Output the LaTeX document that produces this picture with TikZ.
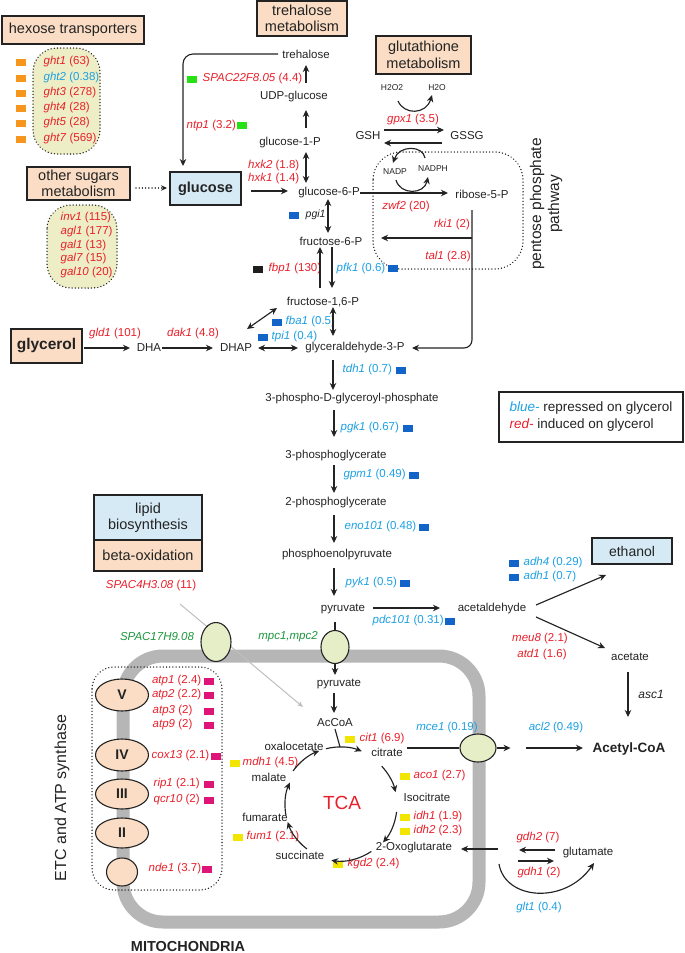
\documentclass[tikz,border=0pt]{standalone}
\usepackage{fontspec}
\setmainfont{Liberation Sans}
\usetikzlibrary{arrows.meta,calc,shapes.geometric}
\definecolor{cred}{RGB}{232,32,42}
\definecolor{cblue}{RGB}{28,160,226}
\definecolor{sqblue}{RGB}{18,100,200}
\definecolor{cgreen}{RGB}{28,150,60}
\definecolor{sqgreen}{RGB}{40,225,20}
\definecolor{sqorange}{RGB}{246,150,30}
\definecolor{sqyellow}{RGB}{242,230,0}
\definecolor{sqmag}{RGB}{222,20,120}
\definecolor{sqblack}{RGB}{30,30,30}
\definecolor{peach}{RGB}{250,221,196}
\definecolor{lblue}{RGB}{214,234,246}
\definecolor{blob}{RGB}{238,238,198}
\definecolor{tfill}{RGB}{230,238,200}
\definecolor{memb}{RGB}{182,182,182}
\definecolor{tdark}{RGB}{35,35,35}
\definecolor{lgrey}{RGB}{190,190,190}
\newcommand\fsz[1]{\fontsize{#1}{#1}\selectfont}
\newcommand\genR[2]{\textcolor{cred}{\textit{#1} (#2)}}
\newcommand\genB[2]{\textcolor{cblue}{\textit{#1} (#2)}}
\newcommand\gsq[3]{\fill[#1] (#2-5,#3-3.5) rectangle (#2+5,#3+3.5);}
\begin{document}
\begin{tikzpicture}[x=1pt,y=-1pt,
  met/.style={font=\fsz{11.5}, text=tdark, inner sep=1pt},
  gene/.style={font=\fsz{11.5}, inner sep=0.5pt},
  sml/.style={font=\fsz{8.5}, text=tdark, inner sep=1pt},
  boxt/.style={draw=tdark, line width=1.3pt, font=\fontsize{14.5}{16.5}\selectfont, align=center, inner sep=0pt, text=tdark},
  arr/.style={draw=tdark, line width=1.15pt, -{Stealth[length=7pt,width=6.5pt]}},
  darr/.style={draw=tdark, line width=1.15pt, {Stealth[length=7pt,width=6.5pt]}-{Stealth[length=7pt,width=6.5pt]}},
  dotsty/.style={draw=tdark, line width=1.5pt, dash pattern=on 0.01pt off 3.2pt, line cap=round},
  trans/.style={ellipse, draw=tdark, line width=1.1pt, fill=tfill, inner sep=0pt},
  cplx/.style={ellipse, draw=tdark, line width=1.1pt, fill=peach, inner sep=0pt, font=\bfseries\fsz{14}, text=tdark},
]
\useasboundingbox (0,0) rectangle (685,953);

% ---------- regions ----------
\draw[memb, line width=13pt, rounded corners=40] (123,656) rectangle (479,922);
\draw[dotsty, fill=blob, rounded corners=24] (33,48) rectangle (100,154);
\draw[dotsty, fill=blob, rounded corners=24] (47,205) rectangle (117,288);
\draw[dotsty, rounded corners=28] (373,152) rectangle (523,269);
\draw[dotsty, rounded corners=22] (92,667) rectangle (222,890);

% ---------- boxes ----------
\node[boxt, fill=peach, minimum width=142, minimum height=28] (hexbox) at (73,30) {hexose transporters};
\node[boxt, fill=peach, minimum width=103, minimum height=33] (osbox) at (78.5,183.5) {other sugars\\metabolism};
\node[boxt, fill=lblue, minimum width=71, minimum height=33, font=\bfseries\fsz{14.5}] (glu) at (205.5,188.5) {glucose};
\node[boxt, fill=peach, minimum width=90, minimum height=35] (trebox) at (302,18.5) {trehalose\\metabolism};
\node[boxt, fill=peach, minimum width=95, minimum height=38] (gtbox) at (423.5,55) {glutathione\\metabolism};
\node[boxt, fill=peach, minimum width=71, minimum height=34, font=\bfseries\fsz{15.5}] (glyc) at (46.5,346) {glycerol};
\node[boxt, fill=lblue, minimum width=108, minimum height=45] (lip) at (148,517.5) {lipid\\biosynthesis};
\node[boxt, fill=peach, minimum width=108, minimum height=31] (beta) at (148,555.5) {beta-oxidation};
\node[boxt, fill=lblue, minimum width=80, minimum height=26, font=\fsz{14}] (eth) at (632,551) {ethanol};
\node[boxt, minimum width=184, minimum height=50, align=left, font=\fontsize{13.5}{17}\selectfont] (leg) at (591,417) {\textcolor{cblue}{\textit{blue-}} repressed on glycerol\\\textcolor{cred}{\textit{red-}} induced on glycerol};

% ---------- metabolites ----------
\node[met] (tre) at (306,54) {trehalose};
\node[met] (udp) at (294,97) {UDP-glucose};
\node[met] (g1p) at (290,143) {glucose-1-P};
\node[met] (g6p) at (329,193) {glucose-6-P};
\node[met] (f6p) at (331,241) {fructose-6-P};
\node[met] (f16p) at (323,302) {fructose-1,6-P};
\node[met] (gap) at (355,348) {glyceraldehyde-3-P};
\node[met] (dhap) at (236,348) {DHAP};
\node[met] (dha) at (149,348) {DHA};
\node[met] (r5p) at (482,194) {ribose-5-P};
\node[met] (gsh) at (368,136) {GSH};
\node[met] (gssg) at (467,136) {GSSG};
\node[sml] (h2o2) at (392,88) {H2O2};
\node[sml] (h2o) at (437,88) {H2O};
\node[sml] (nadp) at (395,172) {NADP};
\node[sml] (nadph) at (433,169) {NADPH};
\node[met] (p3dg) at (352,399) {3-phospho-D-glyceroyl-phosphate};
\node[met] (pg3) at (336,456) {3-phosphoglycerate};
\node[met] (pg2) at (336,503) {2-phosphoglycerate};
\node[met] (pep) at (337,555) {phosphoenolpyruvate};
\node[met] (pyr) at (343,609) {pyruvate};
\node[met] (acald) at (492,609) {acetaldehyde};
\node[met] (acet) at (630,657) {acetate};
\node[met, font=\bfseries\fsz{13.5}] (acoa) at (629,749) {Acetyl-CoA};
\node[met] (pyrin) at (339,684) {pyruvate};
\node[met] (accoa) at (335,723) {AcCoA};
\node[met] (oaa) at (294,746) {oxalocetate};
\node[met] (cit) at (387,752) {citrate};
\node[met] (icit) at (427,797) {Isocitrate};
\node[met] (og) at (414,848) {2-Oxoglutarate};
\node[met] (suc) at (300,855) {succinate};
\node[met] (fum) at (265,817) {fumarate};
\node[met] (mal) at (269,777) {malate};
\node[met] (glut) at (588,853) {glutamate};
\node[font=\fsz{19}, text=cred] (tca) at (342,803) {TCA};
\node[font=\bfseries\fsz{14.5}, text=tdark] (mito) at (188,946) {MITOCHONDRIA};
\node[font=\fontsize{15.5}{18}\selectfont, align=center, rotate=90, text=tdark] (ppp) at (546,204) {pentose phosphate\\pathway};
\node[font=\fsz{16}, rotate=90, text=tdark] (etc) at (62,798) {ETC and ATP synthase};

% ---------- genes ----------
\node[gene, anchor=west] (ght1) at (43,62) {\genR{ght1}{63}};
\node[gene, anchor=west] (ght2) at (43,78) {\genB{ght2}{0.38}};
\node[gene, anchor=west] (ght3) at (43,93) {\genR{ght3}{278}};
\node[gene, anchor=west] (ght4) at (43,108) {\genR{ght4}{28}};
\node[gene, anchor=west] (ght5) at (43,123) {\genR{ght5}{28}};
\node[gene, anchor=west] (ght7) at (43,139) {\genR{ght7}{569}};
\node[gene, anchor=west] (inv1) at (60,218) {\genR{inv1}{115}};
\node[gene, anchor=west] (agl1) at (60,232) {\genR{agl1}{177}};
\node[gene, anchor=west] (gal1) at (60,246) {\genR{gal1}{13}};
\node[gene, anchor=west] (gal7) at (60,259) {\genR{gal7}{15}};
\node[gene, anchor=west] (gal10) at (60,273) {\genR{gal10}{20}};
\node[gene, anchor=west] (spac22) at (202,79) {\genR{SPAC22F8.05}{4.4}};
\node[gene, anchor=west] (ntp1) at (186,126) {\genR{ntp1}{3.2}};
\node[gene, anchor=east] (hxk2) at (300,166) {\genR{hxk2}{1.8}};
\node[gene, anchor=east] (hxk1) at (300,179) {\genR{hxk1}{1.4}};
\node[gene] (gpx1) at (413,120) {\genR{gpx1}{3.5}};
\node[gene] (zwf2) at (406,207) {\genR{zwf2}{20}};
\node[gene] (rki1) at (452,225) {\genR{rki1}{2}};
\node[gene] (tal1) at (448,257) {\genR{tal1}{2.8}};
\node[gene, anchor=west, font=\itshape\fsz{10.5}, text=tdark] (pgi1) at (305,215) {pgi1};
\node[gene, anchor=west] (fbp1) at (268,269) {\genR{fbp1}{130}};
\node[gene, anchor=west] (pfk1) at (336,269) {\genB{pfk1}{0.6}};
\node[gene, anchor=west] (fba1) at (285,322) {\genB{fba1}{0.5}};
\node[gene, anchor=west] (tpi1) at (271,337) {\genB{tpi1}{0.4}};
\node[gene] (gld1) at (115,334) {\genR{gld1}{101}};
\node[gene] (dak1) at (193,334) {\genR{dak1}{4.8}};
\node[gene, anchor=west] (tdh1) at (342,370) {\genB{tdh1}{0.7}};
\node[gene, anchor=west] (pgk1) at (340,428) {\genB{pgk1}{0.67}};
\node[gene, anchor=west] (gpm1) at (343,475) {\genB{gpm1}{0.49}};
\node[gene, anchor=west] (eno101) at (344,527) {\genB{eno101}{0.48}};
\node[gene, anchor=west] (pyk1) at (345,583) {\genB{pyk1}{0.5}};
\node[gene, anchor=west] (pdc101) at (372,621) {\genB{pdc101}{0.31}};
\node[gene, anchor=west] (adh4) at (523,563) {\genB{adh4}{0.29}};
\node[gene, anchor=west] (adh1) at (523,577) {\genB{adh1}{0.7}};
\node[gene] (meu8) at (540,639) {\genR{meu8}{2.1}};
\node[gene] (atd1) at (542,655) {\genR{atd1}{1.6}};
\node[gene, font=\itshape\fsz{12}, text=tdark] (asc1) at (651,694) {asc1};
\node[gene] (acl2) at (556,728) {\genB{acl2}{0.49}};
\node[gene] (mce1) at (447,728) {\genB{mce1}{0.19}};
\node[gene] (gdh2) at (538,838) {\genR{gdh2}{7}};
\node[gene] (gdh1) at (539,873) {\genR{gdh1}{2}};
\node[gene] (glt1) at (539,908) {\genB{glt1}{0.4}};
\node[gene] (spac4) at (151,586) {\genR{SPAC4H3.08}{11}};
\node[gene, font=\itshape\fsz{11.5}, text=cgreen] (spac17) at (157,637) {SPAC17H9.08};
\node[gene, font=\itshape\fsz{11.5}, text=cgreen] (mpc) at (288,637) {mpc1,mpc2};
\node[gene, anchor=west] (cit1) at (359,739) {\genR{cit1}{6.9}};
\node[gene, anchor=west] (aco1) at (413,776) {\genR{aco1}{2.7}};
\node[gene, anchor=west] (idh1) at (413,817) {\genR{idh1}{1.9}};
\node[gene, anchor=west] (idh2) at (413,831) {\genR{idh2}{2.3}};
\node[gene, anchor=west] (mdh1) at (242,763) {\genR{mdh1}{4.5}};
\node[gene, anchor=west] (fum1) at (246,837) {\genR{fum1}{2.1}};
\node[gene, anchor=west] (kgd2) at (347,864) {\genR{kgd2}{2.4}};
\node[gene, anchor=east] (atp1) at (202,681) {\genR{atp1}{2.4}};
\node[gene, anchor=east] (atp2) at (202,695) {\genR{atp2}{2.2}};
\node[gene, anchor=west] (atp3) at (152,711) {\genR{atp3}{2}};
\node[gene, anchor=west] (atp9) at (152,725) {\genR{atp9}{2}};
\node[gene, anchor=west] (cox13) at (151,756) {\genR{cox13}{2.1}};
\node[gene, anchor=west] (rip1) at (153,784) {\genR{rip1}{2.1}};
\node[gene, anchor=west] (qcr10) at (153,800) {\genR{qcr10}{2}};
\node[gene, anchor=west] (nde1) at (148,869) {\genR{nde1}{3.7}};

% ---------- squares ----------
\gsq{sqorange}{20.5}{62}\gsq{sqorange}{20.5}{78}\gsq{sqorange}{20.5}{93}
\gsq{sqorange}{20.5}{108}\gsq{sqorange}{20.5}{123}\gsq{sqorange}{20.5}{139}
\gsq{sqgreen}{192}{79}\gsq{sqgreen}{242}{125.5}
\gsq{sqblue}{294}{215}\gsq{sqblack}{258}{269}\gsq{sqblue}{393}{268.5}
\gsq{sqblue}{277}{322.5}\gsq{sqblue}{263}{337}\gsq{sqblue}{401}{370}
\gsq{sqblue}{408}{428}\gsq{sqblue}{414}{475}\gsq{sqblue}{424}{527}
\gsq{sqblue}{405}{583}\gsq{sqblue}{450}{621}\gsq{sqblue}{514}{563}\gsq{sqblue}{514}{577}
\gsq{sqyellow}{350}{739}\gsq{sqyellow}{405}{776}\gsq{sqyellow}{405}{817}\gsq{sqyellow}{405}{831}
\gsq{sqyellow}{238}{837}\gsq{sqyellow}{235}{763}\gsq{sqyellow}{338}{864}
\gsq{sqmag}{209}{681}\gsq{sqmag}{209}{695}\gsq{sqmag}{209}{711}\gsq{sqmag}{209}{725}
\gsq{sqmag}{216}{756}\gsq{sqmag}{209}{784}\gsq{sqmag}{209}{800}\gsq{sqmag}{207}{869}

% ---------- connectors ----------
\draw[arr] ($(udp)+(12,-14)$) -- ($(tre)+(0,11)$);
\draw[arr] ($(g1p)+(16,-15)$) -- ($(udp)+(12,13)$);
\draw[arr, rounded corners=10] ($(tre)+(-28,0)$) -| ($(glu)+(-22.5,-22.5)$);
\draw[darr] ($(g1p)+(16,9)$) -- ($(g6p)+(-23,-10)$);
\draw[arr] ($(glu)+(45.5,2.5)$) -- ($(g6p)+(-41,-2)$);
\draw[dotsty, line width=1.4pt, -{Stealth[length=6pt,width=5.5pt]}] ($(osbox)+(57.5,4.5)$) -- ($(glu)+(-38.5,-0.5)$);
\draw[darr] ($(g6p)+(-1,6)$) -- ($(f6p)+(-3,-8)$);
\draw[arr] ($(f16p)+(-3,-14)$) -- ($(f6p)+(-11,6)$);
\draw[arr] ($(f6p)+(1,6)$) -- ($(f16p)+(9,-14)$);
\draw[darr] ($(f16p)+(10,5)$) -- ($(gap)+(-22,-12)$);
\draw[darr] ($(f16p)+(-46,6)$) -- ($(dhap)+(11,-19)$);
\draw[darr] ($(dhap)+(22,0)$) -- ($(gap)+(-57,0)$);
\draw[arr] ($(glyc)+(37.5,2)$) -- ($(dha)+(-19,0)$);
\draw[arr] ($(dha)+(13,0)$) -- ($(dhap)+(-23,0)$);
\draw[arr] ($(g6p)+(31,0)$) -- ($(r5p)+(-34,-1)$);
\draw[arr, rounded corners=8] ($(r5p)+(-10,16)$) |- ($(gap)+(57,0)$);
\draw[arr] ($(r5p)+(-10,44)$) -- ($(f6p)+(50,-3)$);
\draw[arr] ($(gap)+(-22,12)$) -- ($(p3dg)+(-19,-9)$);
\draw[arr] ($(p3dg)+(-18,11)$) -- ($(pg3)+(-2,-19)$);
\draw[arr] ($(pg3)+(-2,9)$) -- ($(pg2)+(-2,-10)$);
\draw[arr] ($(pg2)+(-2,12)$) -- ($(pep)+(-3,-12)$);
\draw[arr] ($(pep)+(-3,13)$) -- ($(pyr)+(-9,-13)$);
\draw[arr] ($(pyr)+(30,-1)$) -- ($(acald)+(-52,-1)$);
\draw[arr] ($(acald)+(44,-4)$) -- ($(eth)+(-26,24)$);
\draw[arr] ($(acald)+(44,8)$) -- ($(acet)+(-25,-9)$);
\draw[arr] ($(acet)+(-2,15)$) -- ($(acoa)+(-1,-32)$);
\draw[arr] ($(acoa)+(-103,-1)$) -- ($(acoa)+(-46,-1)$);
\draw[arr] ($(pyr)+(-8,13)$) -- ($(pyrin)+(-4,-9)$);
\draw[arr] ($(pyrin)+(-5,9)$) -- ($(accoa)+(-1,-10)$);
\draw[lgrey, line width=1pt, -{Stealth[length=6pt,width=5pt]}] ($(spac4)+(29,18)$) -- ($(accoa)+(-32,-16)$);

% glutathione
\draw[arr] ($(h2o2)+(6,13)$) .. controls (404,115) and (426,115) .. ($(h2o)+(-5,7)$);
\draw[arr] ($(gsh)+(16,-6)$) -- ($(gssg)+(-23,-6)$);
\draw[arr] ($(gssg)+(-25,7)$) -- ($(gsh)+(16,7)$);
\draw[arr] ($(nadph)+(-8,-11)$) .. controls (423,145) and (399,145) .. ($(nadp)+(-2,-9)$);
\draw[arr] ($(nadp)+(1,8)$) .. controls (400,195) and (424,195) .. ($(nadph)+(-5,8)$);

% TCA
\coordinate (tc) at (340,805);
\draw[arr] ($(tc)+(-43:57)$) arc[start angle=-43,end angle=-13,radius=57];
\draw[arr] ($(tc)+(7:57)$) arc[start angle=7,end angle=41,radius=57];
\draw[arr] ($(tc)+(56:56)$) arc[start angle=56,end angle=99,radius=56];
\draw[arr] ($(tc)+(127:55)$) arc[start angle=127,end angle=162,radius=55];
\draw[arr] ($(tc)+(169:55)$) arc[start angle=169,end angle=204,radius=55];
\draw[arr] ($(tc)+(216:58)$) arc[start angle=216,end angle=249,radius=58];
\draw[arr] ($(tc)+(256:58)$) arc[start angle=256,end angle=292,radius=58];
\draw[draw=tdark, line width=1.15pt] ($(accoa)+(0,6)$) -- ($(tc)+(0,-58)$);

% glutamate
\draw[arr] ($(glut)+(-90,-4)$) -- ($(og)+(47,1)$);
\draw[arr] ($(glut)+(-33,-3)$) -- ($(glut)+(-69,-3)$);
\draw[arr] ($(glut)+(-70,8)$) -- ($(glut)+(-34,8)$);
\draw[arr] ($(og)+(85,16)$) .. controls (505,900) and (565,905) .. ($(glut)+(6,10)$);

% ---------- transporters and complexes ----------
\node[trans, minimum width=30, minimum height=39] (t17) at (216,642) {};
\node[trans, minimum width=28, minimum height=33] (tmpc) at (335,647) {};
\node[trans, minimum width=36, minimum height=28] (tmce) at (478,748) {};
\draw[draw=tdark, line width=1.15pt] ($(cit)+(20,-4)$) -- (tmce.west);
\draw[arr] (tmce.east) -- ($(tmce.east)+(14,0)$);
\node[cplx, minimum width=53, minimum height=32] (cV) at (122,695) {V};
\node[cplx, minimum width=53, minimum height=32] (cIV) at (122,755) {IV};
\node[cplx, minimum width=53, minimum height=30] (cIII) at (122,794) {III};
\node[cplx, minimum width=53, minimum height=30] (cII) at (122,833) {II};
\node[cplx, minimum width=31, minimum height=28] (cI) at (122,872) {};
\end{tikzpicture}
\end{document}
